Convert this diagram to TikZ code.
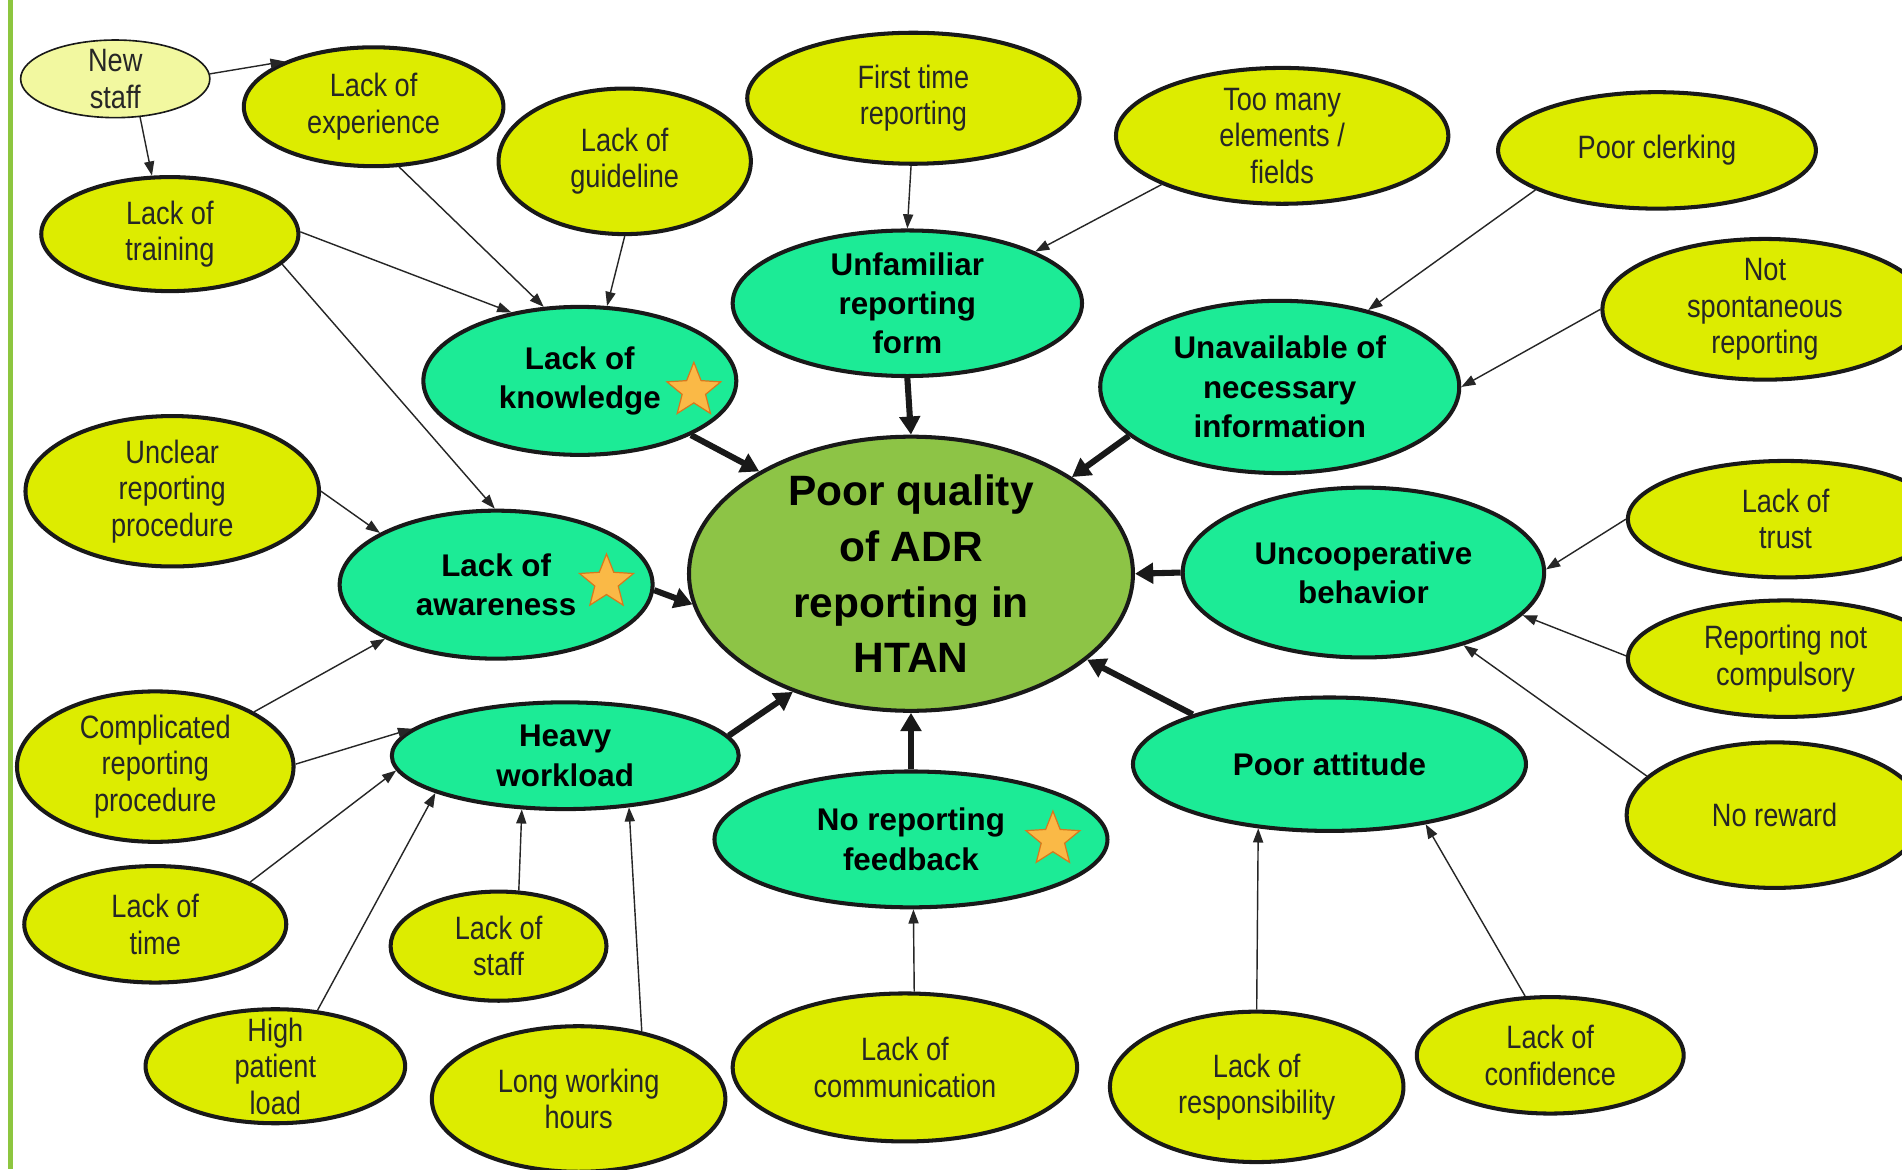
\documentclass[tikz,border=0pt]{standalone}
\usepackage{fontspec}
\setmainfont{Liberation Sans}
\newfontfamily\narrowfont[FakeStretch=0.84]{Liberation Sans}
\usetikzlibrary{arrows.meta,shapes.geometric}
\definecolor{ylw}{RGB}{221,236,0}
\definecolor{paleylw}{RGB}{242,248,160}
\definecolor{mint}{RGB}{28,235,150}
\definecolor{olivec}{RGB}{141,196,70}
\definecolor{edgeg}{RGB}{141,198,63}
\definecolor{starfill}{RGB}{250,185,70}
\definecolor{staredge}{RGB}{215,120,30}
\tikzset{
  base/.style={ellipse, inner sep=-80pt, align=center, draw=black!90, line width=2pt},
  sz/.style 2 args={minimum width=#1*1.2pt, minimum height=#2*1.2pt},
  cause/.style={base, fill=ylw, text=black!85, font=\narrowfont\fontsize{16}{18}\selectfont},
  factor/.style={base, fill=mint, font=\bfseries\fontsize{15.5}{19.5}\selectfont},
  core/.style={base, fill=olivec, font=\bfseries\fontsize{21}{27.6}\selectfont},
  feed/.style={-{Triangle[length=7pt,width=5pt]}, line width=0.7pt, draw=black!85},
  mainarr/.style={-{Triangle[length=9pt,width=10pt]}, line width=3pt, draw=black!90},
  starmk/.style={star, star points=5, star point ratio=2.3, minimum size=28pt, inner sep=0pt, fill=starfill, draw=staredge, line width=0.6pt}
}
\begin{document}
\begin{tikzpicture}[x=0.6pt,y=-0.6pt]
\useasboundingbox (0,0) rectangle (1568,964);
\clip (0,0) rectangle (1568,964);
\fill[white] (0,0) rectangle (1568,964);
\fill[edgeg] (7,0) rectangle (11,964);

% central
\node[core, sz={183}{113}] (c) at (751,473) {Poor quality\\of ADR\\reporting in\\HTAN};

% factors
\node[factor, sz={144}{60}] (uf) at (748,250) {Unfamiliar\\reporting\\form};
\node[factor, sz={129}{61}] (lk) at (478,314) {Lack of\\knowledge};
\node[factor, sz={148}{71}] (un) at (1055,319) {Unavailable of\\necessary\\information};
\node[factor, sz={129}{61}] (la) at (409,482) {Lack of\\awareness};
\node[factor, sz={149}{70}] (uc) at (1124,472) {Uncooperative\\behavior};
\node[factor, sz={143}{44}] (hw) at (466,623) {Heavy\\workload};
\node[factor, sz={162}{55}] (pa) at (1096,630) {Poor attitude};
\node[factor, sz={162}{56}] (nf) at (751,692) {No reporting\\feedback};

% causes
\node[cause, sz={78}{32}, fill=paleylw, line width=0.8pt] (ns) at (95,65) {New\\staff};
\node[cause, sz={107}{49}] (le) at (308,88) {Lack of\\experience};
\node[cause, sz={104}{60}] (lg) at (515,133) {Lack of\\guideline};
\node[cause, sz={137}{54}] (ft) at (753,81) {First time\\reporting};
\node[cause, sz={137}{56}] (tm) at (1057,112) {Too many\\elements /\\fields};
\node[cause, sz={131}{48}] (pc) at (1366,124) {Poor clerking};
\node[cause, sz={106}{47}] (lt) at (140,193) {Lack of\\training};
\node[cause, sz={134}{58}] (nsp) at (1455,255) {Not\\spontaneous\\reporting};
\node[cause, sz={121}{62}] (ur) at (142,405) {Unclear\\reporting\\procedure};
\node[cause, sz={130}{48}] (ltr) at (1472,428) {Lack of\\trust};
\node[cause, sz={130}{48}] (rnc) at (1472,543) {Reporting not\\compulsory};
\node[cause, sz={114}{62}] (crp) at (128,632) {Complicated\\reporting\\procedure};
\node[cause, sz={122}{60}] (nr) at (1463,672) {No reward};
\node[cause, sz={108}{48}] (ltm) at (128,762) {Lack of\\time};
\node[cause, sz={89}{45}] (ls) at (411,780) {Lack of\\staff};
\node[cause, sz={107}{47}] (hp) at (227,879) {High\\patient\\load};
\node[cause, sz={121}{60}] (lw) at (477,906) {Long working\\hours};
\node[cause, sz={142}{61}] (lc) at (746,880) {Lack of\\communication};
\node[cause, sz={121}{62}] (lrs) at (1036,896) {Lack of\\responsibility};
\node[cause, sz={110}{48}] (lcf) at (1278,870) {Lack of\\confidence};

% stars
\node[starmk] (s1) at (572,322) {};
\node[starmk] (s2) at (500,480) {};
\node[starmk] (s3) at (868,692) {};

% thin arrows
\draw[feed] (ns.3.6) -- (le.153);
\draw[feed] (ns.-57) -- (lt.107);
\draw[feed] (le.-67) -- (lk.116);
\draw[feed] (lg.-90) -- (lk.70);
\draw[feed] (lt.1.6) -- (lk.135);
\draw[feed] (lt.-15) -- (la.91);
\draw[feed] (ur.0) -- (la.156);
\draw[feed] (crp.29) -- (la.206);
\draw[feed] (crp.1) -- (hw.170);
\draw[feed] (ltm.24) -- (hw.185);
\draw[feed] (hp.53) -- (hw.196);
\draw[feed] (ls.70) -- (hw.231);
\draw[feed] (lw.47) -- (hw.-39);
\draw[feed] (lc.83) -- (nf.-88);
\draw[feed] (lrs.90) -- (pa.222);
\draw[feed] (lcf.113) -- (pa.-32);
\draw[feed] (nr.163) -- (uc.-36);
\draw[feed] (rnc.179) -- (uc.-15);
\draw[feed] (ltr.180) -- (uc.1);
\draw[feed] (nsp.180) -- (un.0);
\draw[feed] (pc.198) -- (un.41);
\draw[feed] (tm.202) -- (uf.22);
\draw[feed] (ft.-92) -- (uf.90);

% thick arrows
\draw[mainarr] (uf.-90) -- (c.90);
\draw[mainarr] (lk.-26) -- (c.146);
\draw[mainarr] (un.198) -- (c.31);
\draw[mainarr] (la.-2) -- (c.188);
\draw[mainarr] (uc.180) -- (c.0);
\draw[mainarr] (hw.7) -- (c.225);
\draw[mainarr] (nf.90) -- (c.-90);
\draw[mainarr] (pa.160) -- (c.-26);
\end{tikzpicture}
\end{document}
